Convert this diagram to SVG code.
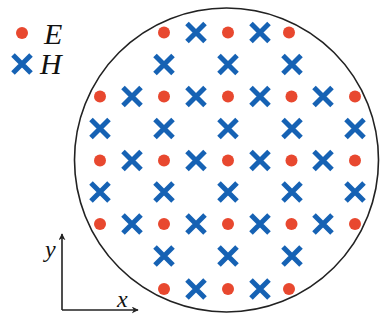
<svg xmlns="http://www.w3.org/2000/svg" xmlns:xlink="http://www.w3.org/1999/xlink" width="381" height="320" viewBox="0 0 381 320">
<style>
.e{fill:#E8482F}
.h{stroke:#1662B4;stroke-width:5;stroke-linecap:butt;fill:none}
.lbl{font-family:"Liberation Serif","DejaVu Serif",serif;font-style:italic;fill:#111}
.ax{stroke:#222;stroke-width:1.6;fill:none}
</style>
<defs>
<circle id="E" class="e" r="6"/>
<path id="H" class="h" d="M-9,-9L9,9M-9,9L9,-9"/>
<marker id="arr" viewBox="0 0 10 10" refX="9" refY="5" markerWidth="7" markerHeight="7" orient="auto" markerUnits="userSpaceOnUse"><path d="M0,0L10,5L0,10L3,5Z" fill="#222"/></marker>
</defs>
<rect width="381" height="320" fill="#fff"/>
<g id="boundary"><circle cx="226.5" cy="160" r="152" fill="#fff" stroke="#222" stroke-width="1.6"/></g>
<g id="legend">
<use href="#E" x="22" y="33"/>
<text class="lbl" x="44" y="44" font-size="30">E</text>
<use href="#H" x="22" y="64"/>
<text class="lbl" x="40" y="74" font-size="30">H</text>
</g>
<g id="axes">
<path class="ax" d="M62,310V234" marker-end="url(#arr)"/>
<path class="ax" d="M62,310H138" marker-end="url(#arr)"/>
<text class="lbl" x="45" y="257" font-size="24">y</text>
<text class="lbl" x="117" y="307" font-size="24">x</text>
</g>
<g id="field">
<use href="#E" x="164" y="32.5"/><use href="#H" x="196" y="32.5"/><use href="#E" x="228" y="32.5"/><use href="#H" x="260" y="32.5"/><use href="#E" x="289" y="32.5"/>
<use href="#H" x="164" y="64.5"/><use href="#H" x="228" y="64.5"/><use href="#H" x="292" y="64.5"/>
<use href="#E" x="100" y="96.5"/><use href="#H" x="132" y="96.5"/><use href="#E" x="164" y="96.5"/><use href="#H" x="196" y="96.5"/><use href="#E" x="228" y="96.5"/><use href="#H" x="260" y="96.5"/><use href="#E" x="291.5" y="96.5"/><use href="#H" x="323" y="96.5"/><use href="#E" x="355" y="96.5"/>
<use href="#H" x="100" y="128.5"/><use href="#H" x="164" y="128.5"/><use href="#H" x="228" y="128.5"/><use href="#H" x="292" y="128.5"/><use href="#H" x="355" y="128.5"/>
<use href="#E" x="100" y="160.5"/><use href="#H" x="132" y="160.5"/><use href="#E" x="164" y="160.5"/><use href="#H" x="196" y="160.5"/><use href="#E" x="228" y="160.5"/><use href="#H" x="260" y="160.5"/><use href="#E" x="291.5" y="160.5"/><use href="#H" x="323" y="160.5"/><use href="#E" x="355" y="160.5"/>
<use href="#H" x="100" y="192"/><use href="#H" x="164" y="192"/><use href="#H" x="228" y="192"/><use href="#H" x="292" y="192"/><use href="#H" x="355" y="192"/>
<use href="#E" x="100" y="224"/><use href="#H" x="132" y="224"/><use href="#E" x="164" y="224"/><use href="#H" x="196" y="224"/><use href="#E" x="228" y="224"/><use href="#H" x="260" y="224"/><use href="#E" x="291.5" y="224"/><use href="#H" x="323" y="224"/><use href="#E" x="355" y="224"/>
<use href="#H" x="164" y="256"/><use href="#H" x="228" y="256"/><use href="#H" x="292" y="256"/>
<use href="#E" x="164" y="289"/><use href="#H" x="196" y="289"/><use href="#E" x="228" y="289"/><use href="#H" x="260" y="289"/><use href="#E" x="289" y="289"/>
</g>
</svg>
